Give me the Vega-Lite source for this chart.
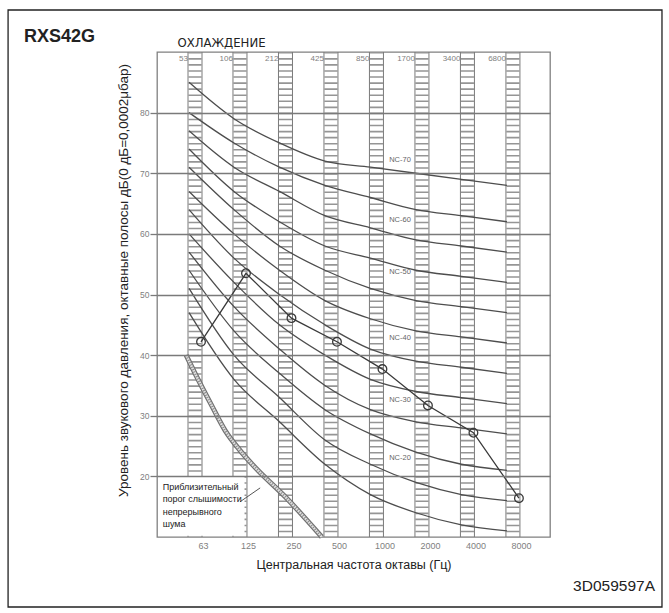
{
  "$schema": "https://vega.github.io/schema/vega-lite/v6.json",
  "width": 393,
  "height": 485,
  "autosize": {"type": "none"},
  "padding": {"left": 157, "top": 52, "right": 119, "bottom": 76},
  "background": "white",
  "config": {
    "view": {"stroke": "#808080", "strokeWidth": 1.3},
    "font": "Liberation Sans"
  },
  "datasets": {
    "columns": [
      {"hz": 63, "edge": "53"}, {"hz": 125, "edge": "106"}, {"hz": 250, "edge": "212"}, {"hz": 500, "edge": "425"},
      {"hz": 1000, "edge": "850"}, {"hz": 2000, "edge": "1700"}, {"hz": 4000, "edge": "3400"}, {"hz": 8000, "edge": "6800"}
    ],
    "nc": [
      {"nc": "NC-15", "hz": 63, "db": 47}, {"nc": "NC-15", "hz": 125, "db": 36}, {"nc": "NC-15", "hz": 250, "db": 29}, {"nc": "NC-15", "hz": 500, "db": 22}, {"nc": "NC-15", "hz": 1000, "db": 17}, {"nc": "NC-15", "hz": 2000, "db": 14}, {"nc": "NC-15", "hz": 4000, "db": 12}, {"nc": "NC-15", "hz": 8000, "db": 11},
      {"nc": "NC-20", "hz": 63, "db": 51}, {"nc": "NC-20", "hz": 125, "db": 40}, {"nc": "NC-20", "hz": 250, "db": 33}, {"nc": "NC-20", "hz": 500, "db": 26}, {"nc": "NC-20", "hz": 1000, "db": 22}, {"nc": "NC-20", "hz": 2000, "db": 19}, {"nc": "NC-20", "hz": 4000, "db": 17}, {"nc": "NC-20", "hz": 8000, "db": 16},
      {"nc": "NC-25", "hz": 63, "db": 54}, {"nc": "NC-25", "hz": 125, "db": 44}, {"nc": "NC-25", "hz": 250, "db": 37}, {"nc": "NC-25", "hz": 500, "db": 31}, {"nc": "NC-25", "hz": 1000, "db": 27}, {"nc": "NC-25", "hz": 2000, "db": 24}, {"nc": "NC-25", "hz": 4000, "db": 22}, {"nc": "NC-25", "hz": 8000, "db": 21},
      {"nc": "NC-30", "hz": 63, "db": 57}, {"nc": "NC-30", "hz": 125, "db": 48}, {"nc": "NC-30", "hz": 250, "db": 41}, {"nc": "NC-30", "hz": 500, "db": 35}, {"nc": "NC-30", "hz": 1000, "db": 31}, {"nc": "NC-30", "hz": 2000, "db": 29}, {"nc": "NC-30", "hz": 4000, "db": 28}, {"nc": "NC-30", "hz": 8000, "db": 27},
      {"nc": "NC-35", "hz": 63, "db": 60}, {"nc": "NC-35", "hz": 125, "db": 52}, {"nc": "NC-35", "hz": 250, "db": 45}, {"nc": "NC-35", "hz": 500, "db": 40}, {"nc": "NC-35", "hz": 1000, "db": 36}, {"nc": "NC-35", "hz": 2000, "db": 34}, {"nc": "NC-35", "hz": 4000, "db": 33}, {"nc": "NC-35", "hz": 8000, "db": 32},
      {"nc": "NC-40", "hz": 63, "db": 64}, {"nc": "NC-40", "hz": 125, "db": 56}, {"nc": "NC-40", "hz": 250, "db": 50}, {"nc": "NC-40", "hz": 500, "db": 45}, {"nc": "NC-40", "hz": 1000, "db": 41}, {"nc": "NC-40", "hz": 2000, "db": 39}, {"nc": "NC-40", "hz": 4000, "db": 38}, {"nc": "NC-40", "hz": 8000, "db": 37},
      {"nc": "NC-45", "hz": 63, "db": 67}, {"nc": "NC-45", "hz": 125, "db": 60}, {"nc": "NC-45", "hz": 250, "db": 54}, {"nc": "NC-45", "hz": 500, "db": 49}, {"nc": "NC-45", "hz": 1000, "db": 46}, {"nc": "NC-45", "hz": 2000, "db": 44}, {"nc": "NC-45", "hz": 4000, "db": 43}, {"nc": "NC-45", "hz": 8000, "db": 42},
      {"nc": "NC-50", "hz": 63, "db": 71}, {"nc": "NC-50", "hz": 125, "db": 64}, {"nc": "NC-50", "hz": 250, "db": 58}, {"nc": "NC-50", "hz": 500, "db": 54}, {"nc": "NC-50", "hz": 1000, "db": 51}, {"nc": "NC-50", "hz": 2000, "db": 49}, {"nc": "NC-50", "hz": 4000, "db": 48}, {"nc": "NC-50", "hz": 8000, "db": 47},
      {"nc": "NC-55", "hz": 63, "db": 74}, {"nc": "NC-55", "hz": 125, "db": 67}, {"nc": "NC-55", "hz": 250, "db": 62}, {"nc": "NC-55", "hz": 500, "db": 58}, {"nc": "NC-55", "hz": 1000, "db": 56}, {"nc": "NC-55", "hz": 2000, "db": 54}, {"nc": "NC-55", "hz": 4000, "db": 53}, {"nc": "NC-55", "hz": 8000, "db": 52},
      {"nc": "NC-60", "hz": 63, "db": 77}, {"nc": "NC-60", "hz": 125, "db": 71}, {"nc": "NC-60", "hz": 250, "db": 67}, {"nc": "NC-60", "hz": 500, "db": 63}, {"nc": "NC-60", "hz": 1000, "db": 61}, {"nc": "NC-60", "hz": 2000, "db": 59}, {"nc": "NC-60", "hz": 4000, "db": 58}, {"nc": "NC-60", "hz": 8000, "db": 57},
      {"nc": "NC-65", "hz": 63, "db": 80}, {"nc": "NC-65", "hz": 125, "db": 75}, {"nc": "NC-65", "hz": 250, "db": 71}, {"nc": "NC-65", "hz": 500, "db": 68}, {"nc": "NC-65", "hz": 1000, "db": 66}, {"nc": "NC-65", "hz": 2000, "db": 64}, {"nc": "NC-65", "hz": 4000, "db": 63}, {"nc": "NC-65", "hz": 8000, "db": 62},
      {"nc": "NC-70", "hz": 63, "db": 85}, {"nc": "NC-70", "hz": 125, "db": 79}, {"nc": "NC-70", "hz": 250, "db": 75}, {"nc": "NC-70", "hz": 500, "db": 72}, {"nc": "NC-70", "hz": 1000, "db": 71}, {"nc": "NC-70", "hz": 2000, "db": 70}, {"nc": "NC-70", "hz": 4000, "db": 69}, {"nc": "NC-70", "hz": 8000, "db": 68}
    ],
    "nclabels": [
      {"hz": 1432, "db": 72.2, "label": "NC-70"},
      {"hz": 1432, "db": 62.3, "label": "NC-60"},
      {"hz": 1432, "db": 53.7, "label": "NC-50"},
      {"hz": 1432, "db": 42.8, "label": "NC-40"},
      {"hz": 1432, "db": 32.6, "label": "NC-30"},
      {"hz": 1432, "db": 23.0, "label": "NC-20"}
    ],
    "threshold": [
      {"hz": 55, "db": 40}, {"hz": 63, "db": 37}, {"hz": 80, "db": 32}, {"hz": 100, "db": 27.5},
      {"hz": 125, "db": 24.3}, {"hz": 160, "db": 21.3}, {"hz": 250, "db": 16.6}, {"hz": 435, "db": 10}
    ],
    "measured": [
      {"hz": 63, "db": 42.2}, {"hz": 125, "db": 53.5}, {"hz": 250, "db": 46.1}, {"hz": 500, "db": 42.2},
      {"hz": 1000, "db": 37.7}, {"hz": 2000, "db": 31.7}, {"hz": 4000, "db": 27.2}, {"hz": 8000, "db": 16.4}
    ]
  },
  "layer": [
    {
      "data": {"name": "columns"},
      "mark": {"type": "rule", "strokeWidth": 13, "strokeDash": [1.6, 4.46], "strokeCap": "butt", "color": "#959595"},
      "encoding": {
        "x": {"field": "hz", "type": "quantitative", "scale": {"type": "log", "domain": [35.3, 14075], "nice": false},
          "axis": {"values": [63, 125, 250, 500, 1000, 2000, 4000, 8000], "format": "d", "grid": false, "ticks": false, "domain": false,
            "labelOffset": 8, "labelPadding": 4, "labelFontSize": 9, "labelColor": "#808080", "labelFlush": false,
            "title": "Центральная частота октавы (Гц)", "titleFont": "Liberation Sans",
            "titleFontSize": 12.5, "titleFontWeight": "normal", "titleColor": "#222222", "titleBaseline": "alphabetic", "titleY": 31}},
        "y": {"datum": 90, "type": "quantitative", "scale": {"domain": [10, 90], "nice": false, "zero": false},
          "axis": {"values": [20, 30, 40, 50, 60, 70, 80], "grid": true, "gridColor": "#7a7a7a", "gridWidth": 1.3, "gridOpacity": 1,
            "ticks": true, "tickSize": 7, "tickColor": "#7a7a7a", "tickWidth": 1.3, "domain": false, "zindex": 1,
            "labelFontSize": 8.5, "labelColor": "#808080", "labelPadding": 1,
            "title": "Уровень звукового давления, октавные полосы дБ(0 дБ=0,0002μбар)",
            "titleFont": "Liberation Sans", "titleFontSize": 13.5, "titleFontWeight": "normal",
            "titleColor": "#222222", "titleAngle": 270, "titleAlign": "center", "titleBaseline": "middle", "titleX": -34, "titleY": 228}},
        "y2": {"datum": 10}
      }
    },
    {
      "data": {"name": "columns"},
      "mark": {"type": "rule", "strokeWidth": 1, "color": "#7a7a7a", "xOffset": -7},
      "encoding": {"x": {"field": "hz", "type": "quantitative"}, "y": {"datum": 90, "type": "quantitative"}, "y2": {"datum": 10}}
    },
    {
      "data": {"name": "columns"},
      "mark": {"type": "rule", "strokeWidth": 1, "color": "#7a7a7a", "xOffset": 7},
      "encoding": {"x": {"field": "hz", "type": "quantitative"}, "y": {"datum": 90, "type": "quantitative"}, "y2": {"datum": 10}}
    },
    {
      "data": {"values": [{}]},
      "mark": {"type": "rect", "fill": "white"},
      "encoding": {"x": {"datum": 36, "type": "quantitative"}, "x2": {"datum": 134}, "y": {"datum": 10.2, "type": "quantitative"}, "y2": {"datum": 19.9}}
    },
    {
      "data": {"name": "columns"},
      "mark": {"type": "text", "align": "right", "baseline": "top", "dx": -7, "dy": 3, "fontSize": 8, "color": "#808080"},
      "encoding": {"x": {"field": "hz", "type": "quantitative"}, "y": {"datum": 90, "type": "quantitative"}, "text": {"field": "edge"}}
    },
    {
      "data": {"name": "nc"},
      "mark": {"type": "line", "color": "#4d4d4d", "strokeWidth": 1.3, "interpolate": "monotone", "xOffset": -6},
      "encoding": {"x": {"field": "hz", "type": "quantitative"}, "y": {"field": "db", "type": "quantitative"}, "detail": {"field": "nc"}}
    },
    {
      "data": {"name": "nclabels"},
      "mark": {"type": "text", "fontSize": 7.5, "color": "#666666"},
      "encoding": {"x": {"field": "hz", "type": "quantitative"}, "y": {"field": "db", "type": "quantitative"}, "text": {"field": "label"}}
    },
    {
      "data": {"name": "threshold"},
      "mark": {"type": "line", "color": "#707070", "strokeWidth": 5, "interpolate": "monotone"},
      "encoding": {"x": {"field": "hz", "type": "quantitative"}, "y": {"field": "db", "type": "quantitative"}}
    },
    {
      "data": {"name": "threshold"},
      "mark": {"type": "line", "color": "#e0e0e0", "strokeWidth": 2.6, "interpolate": "monotone"},
      "encoding": {"x": {"field": "hz", "type": "quantitative"}, "y": {"field": "db", "type": "quantitative"}}
    },
    {
      "data": {"name": "threshold"},
      "mark": {"type": "line", "color": "#8a8a8a", "strokeWidth": 2.6, "strokeDash": [1, 1.6], "interpolate": "monotone"},
      "encoding": {"x": {"field": "hz", "type": "quantitative"}, "y": {"field": "db", "type": "quantitative"}}
    },
    {
      "data": {"values": [{"hz": 125, "db": 15.8, "hz2": 170, "db2": 18.1}]},
      "mark": {"type": "rule", "color": "#555555", "strokeWidth": 1},
      "encoding": {"x": {"field": "hz", "type": "quantitative"}, "y": {"field": "db", "type": "quantitative"}, "x2": {"field": "hz2"}, "y2": {"field": "db2"}}
    },
    {
      "data": {"values": [{"hz": 38.5, "db": 17.75, "label": "Приблизительный\nпорог слышимости\nнепрерывного\nшума"}]},
      "mark": {"type": "text", "align": "left", "baseline": "alphabetic", "lineBreak": "\n", "lineHeight": 12.3, "fontSize": 9,
        "font": "Liberation Sans", "color": "#222222"},
      "encoding": {"x": {"field": "hz", "type": "quantitative"}, "y": {"field": "db", "type": "quantitative"}, "text": {"field": "label"}}
    },
    {
      "data": {"name": "measured"},
      "mark": {"type": "line", "color": "#3a3a3a", "strokeWidth": 1.3, "xOffset": 6},
      "encoding": {"x": {"field": "hz", "type": "quantitative"}, "y": {"field": "db", "type": "quantitative"}}
    },
    {
      "data": {"name": "measured"},
      "mark": {"type": "point", "shape": "circle", "size": 75, "filled": false, "color": "#3a3a3a", "strokeWidth": 1.3, "opacity": 1, "xOffset": 6},
      "encoding": {"x": {"field": "hz", "type": "quantitative"}, "y": {"field": "db", "type": "quantitative"}}
    },
    {
      "data": {"values": [{"hz": 4.65, "db": 91.57, "label": "RXS42G"}]},
      "mark": {"type": "text", "align": "left", "baseline": "alphabetic", "fontSize": 18, "fontWeight": "bold", "font": "Liberation Sans", "color": "#222222"},
      "encoding": {"x": {"field": "hz", "type": "quantitative"}, "y": {"field": "db", "type": "quantitative"}, "text": {"field": "label"}}
    },
    {
      "data": {"values": [{"hz": 94.3, "db": 90.82, "label": "ОХЛАЖДЕНИЕ"}]},
      "mark": {"type": "text", "align": "center", "baseline": "alphabetic", "fontSize": 13, "font": "Liberation Sans Narrow, DejaVu Sans Condensed, sans-serif", "color": "#222222"},
      "encoding": {"x": {"field": "hz", "type": "quantitative"}, "y": {"field": "db", "type": "quantitative"}, "text": {"field": "label"}}
    },
    {
      "data": {"values": [{"hz": 69690, "db": 1.1, "label": "3D059597A"}]},
      "mark": {"type": "text", "align": "right", "baseline": "alphabetic", "fontSize": 15.5, "font": "Liberation Sans", "color": "#222222"},
      "encoding": {"x": {"field": "hz", "type": "quantitative"}, "y": {"field": "db", "type": "quantitative"}, "text": {"field": "label"}}
    },
    {
      "data": {"values": [{}]},
      "mark": {"type": "rect", "filled": false, "stroke": "#222222", "strokeWidth": 1.3},
      "encoding": {"x": {"datum": 3.65, "type": "quantitative"}, "x2": {"datum": 77530}, "y": {"datum": -1.55, "type": "quantitative"}, "y2": {"datum": 96.93}}
    }
  ]
}
